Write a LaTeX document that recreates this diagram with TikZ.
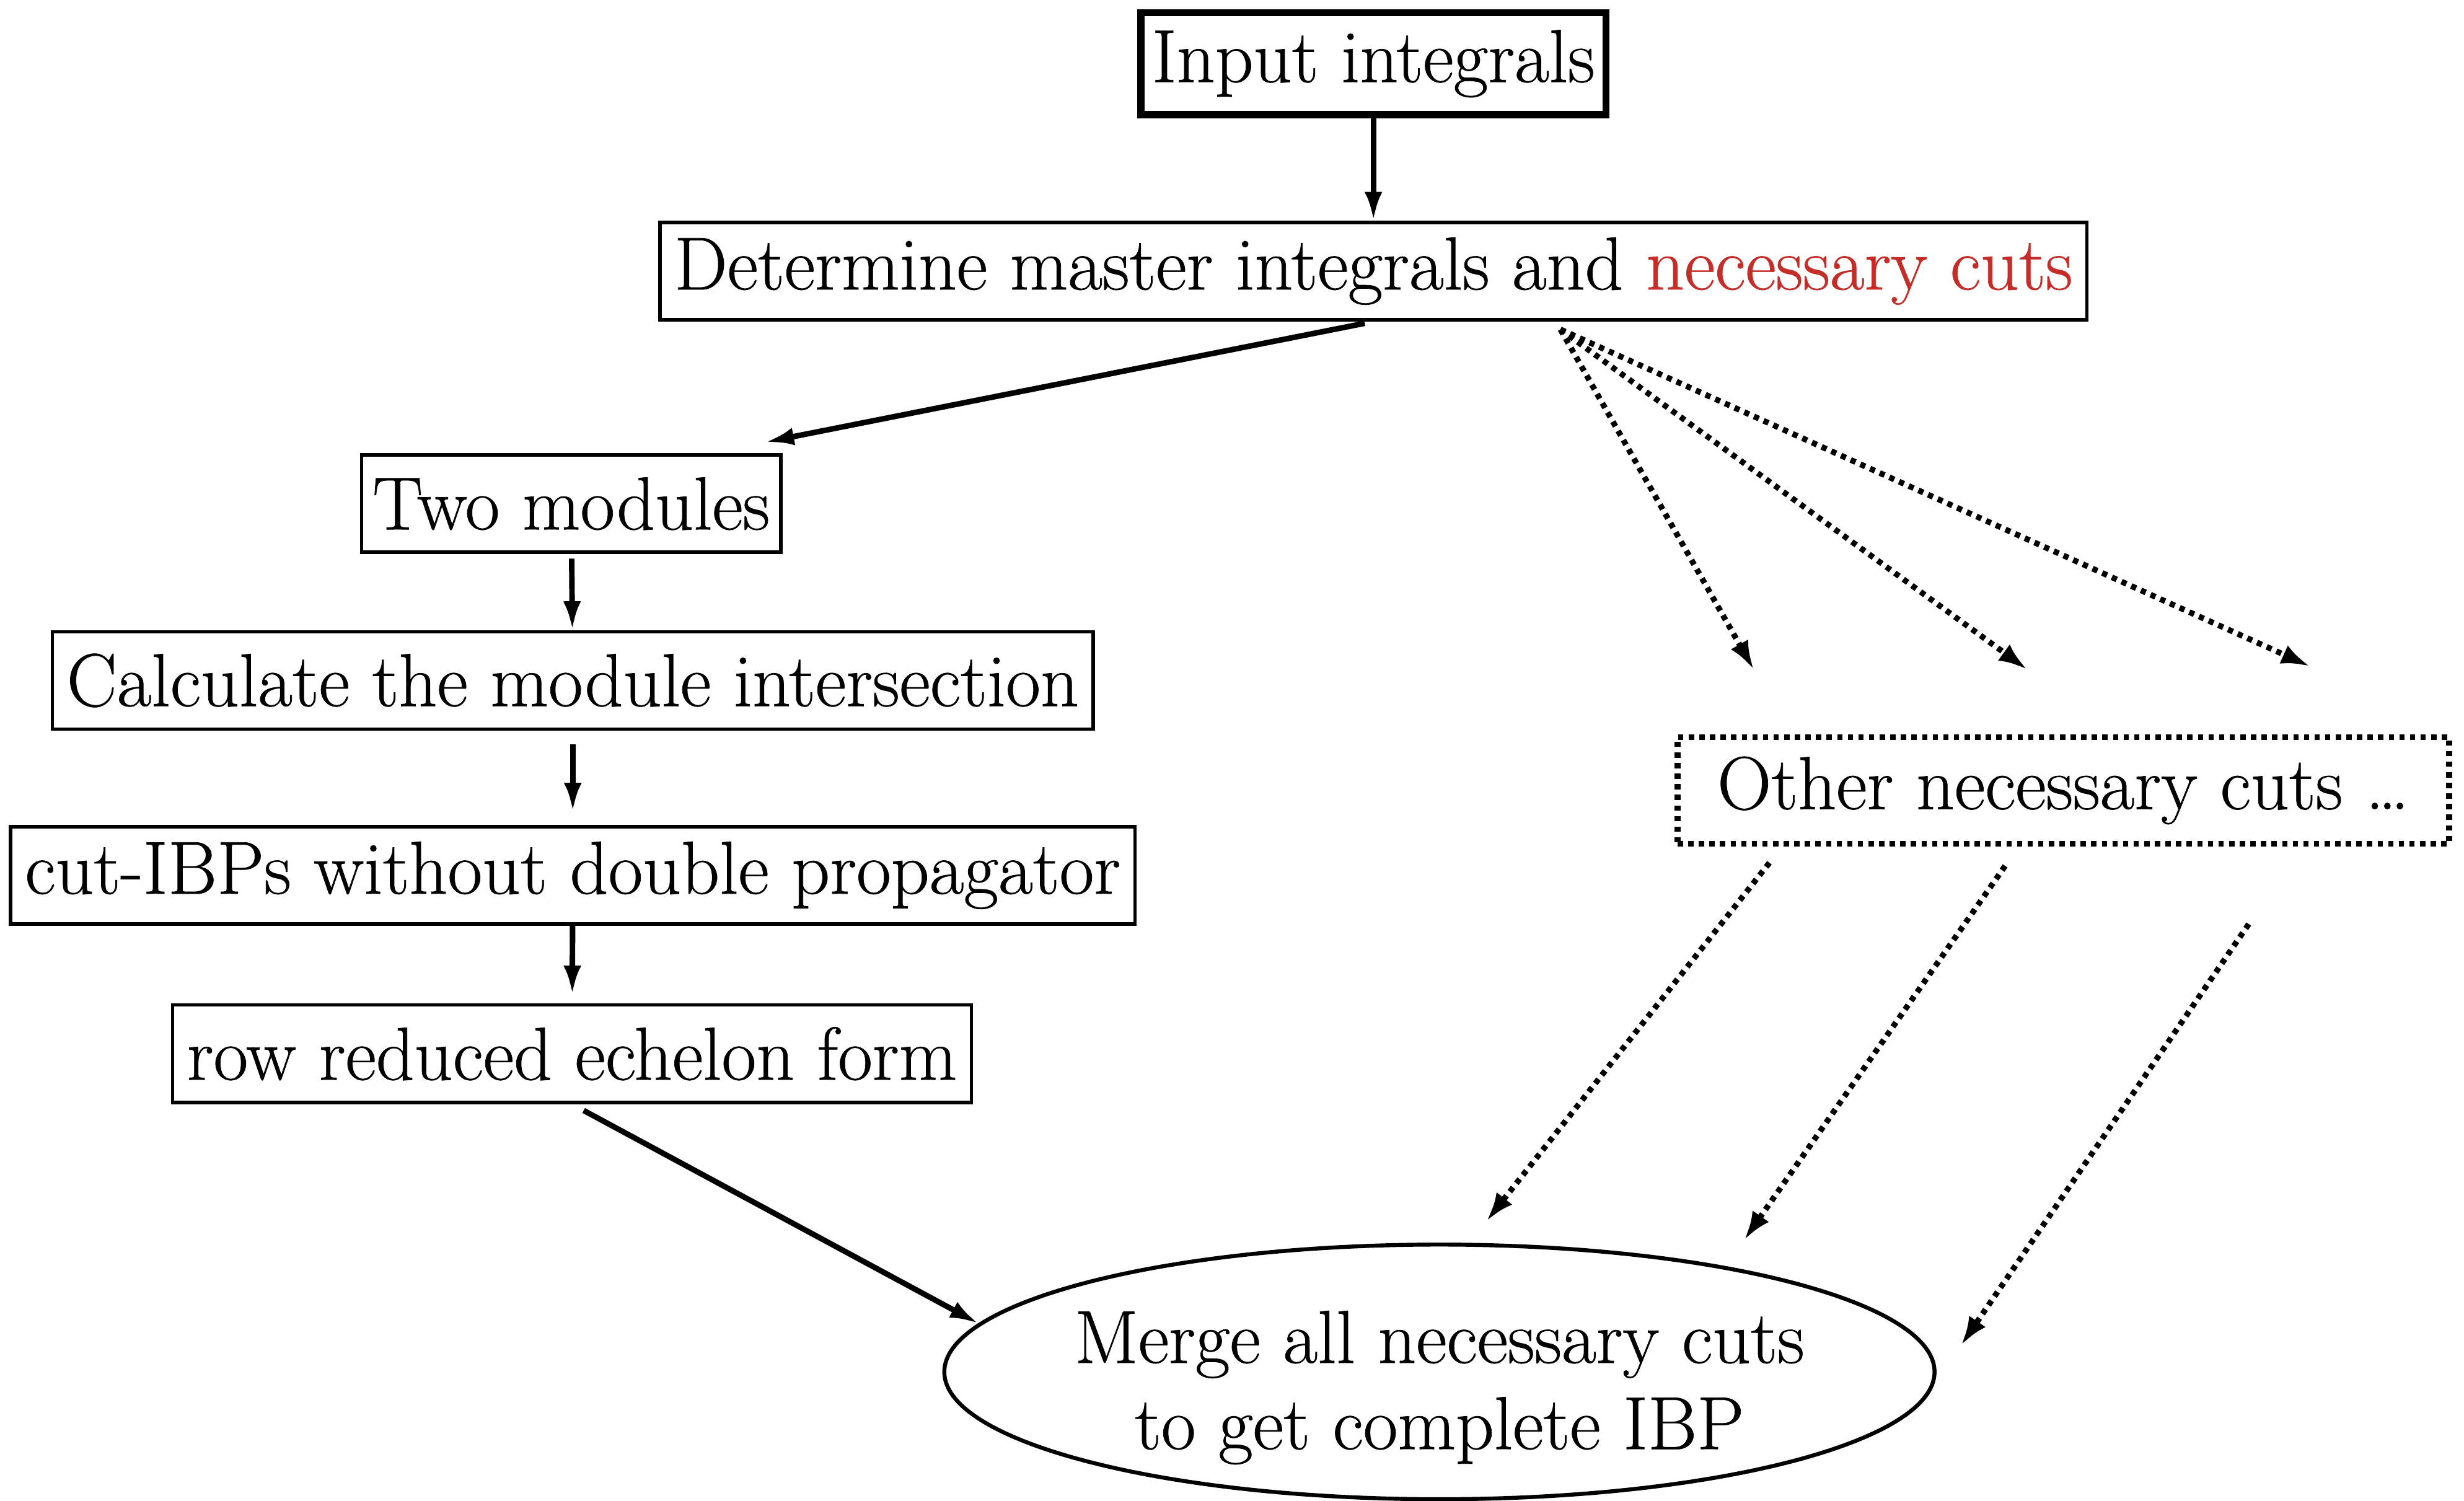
\documentclass[tikz,border=0pt]{standalone}
\usepackage{fontspec}
\setmainfont{Latin Modern Roman}[FakeBold=0.6]
\usepackage{xcolor}
\usepackage{tikz}
\usetikzlibrary{shapes.geometric,arrows.meta}
\definecolor{cutred}{RGB}{196,45,40}

\begin{document}
\begin{tikzpicture}[x=0.025cm,y=-0.025cm,
		font=\fontsize{34}{39}\selectfont,
		stage/.style={draw,line width=1.6pt,inner xsep=6.5pt,minimum height=1.55cm},
		flow/.style={-{Latex[length=13pt,width=8pt]},line width=2.5pt},
		guess/.style={-{Latex[length=13pt,width=9pt]},line width=2.6pt,dash pattern=on 2.4pt off 2.4pt}]
			\useasboundingbox (0,0) rectangle (1568,955);
			\node[stage,line width=3.2pt,minimum height=1.62cm,inner xsep=5pt] (input) at (874,40.5) {Input integrals};
			\node[stage] (determine) at (874,172.5) {Determine master integrals and \textcolor{cutred}{necessary cuts}};
			\node[stage,inner xsep=5pt] (twomod) at (363.5,320.5) {Two modules};
			\node[stage] (intersect) at (364.5,433) {Calculate the module intersection};
			\node[stage] (cutibp) at (364.5,557) {cut-IBPs without double propagator};
			\node[stage] (rowred) at (364,670.5) {row reduced echelon form};
			\node[stage,guess,-,inner xsep=18pt,minimum height=1.7cm] (other) at (1313,503) {Other necessary cuts \ldots};
			\node[draw,ellipse,line width=1.8pt,minimum width=15.75cm,minimum height=4.05cm] (merge) at (916,873) {};
			\node[align=center] (mergetext) at ([shift={(0,10)}]merge.center) {Merge all necessary cuts\\to get complete IBP};
			
			\draw[flow] (input) -- (determine);
			\draw[flow,shorten <=4pt] (determine.south) -- ([shift={(-11,-7)}]twomod.north east);
			\draw[flow,shorten <=2pt] (twomod) -- (intersect);
			\draw[flow,shorten <=6pt,shorten >=6pt] (intersect) -- (cutibp);
			\draw[flow,shorten >=4pt] (cutibp) -- (rowred);
			\draw[flow,shorten <=6pt] (rowred.south) -- (merge.174);
			
			% guessed cuts
			\coordinate (fan) at ([shift={(119,5)}]determine.south);
			\coordinate (cut1) at (1116,426);
			\coordinate (cut2) at (1290,426);
			\coordinate (cut3) at (1470,424);
			\foreach \c in {cut1,cut2,cut3}
				\draw[guess] (fan) -- (\c);
			\foreach \i/\sx/\sy/\ex/\ey in {1/1126/549/946/777,2/1276/551/1110/789,3/1431/588/1248/856}{
				\coordinate (from\i) at (\sx,\sy);
				\coordinate (into\i) at (\ex,\ey);
				\draw[guess] (from\i) -- (into\i);
			}
\end{tikzpicture}
\end{document}
